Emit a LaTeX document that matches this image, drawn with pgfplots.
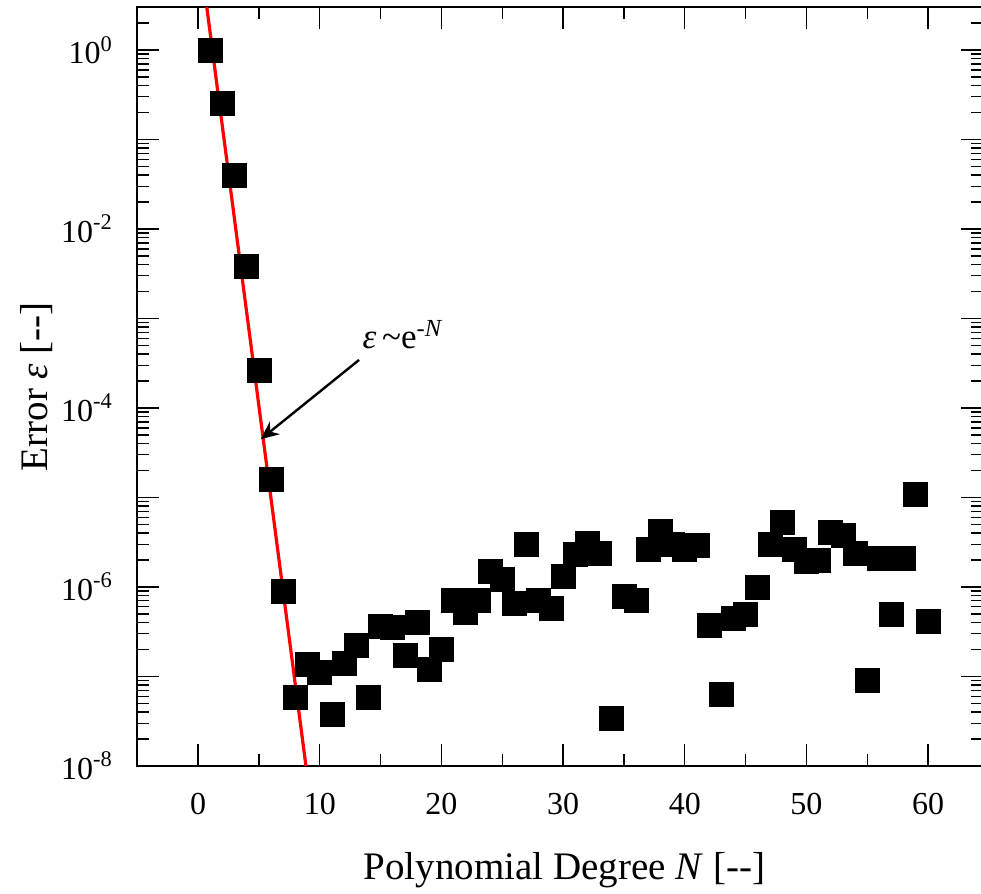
\documentclass[border=0pt]{standalone}
\usepackage{fontspec}
\setmainfont{Liberation Serif}
\usepackage{pgfplots}
\pgfplotsset{compat=1.18}
\usetikzlibrary{arrows.meta}

\begin{document}
\begin{tikzpicture}
\begin{axis}[
    scale only axis,
    width=422.75pt, height=379.3pt,
    ymode=log,
    xmin=-5, xmax=64.5,
    ymin=1e-8, ymax=3,
    xtick={0,10,...,60},
    minor x tick num=1,
    ytick={1e-8,1e-7,1e-6,1e-5,1e-4,1e-3,1e-2,1e-1,1},
    yticklabels={10\textsuperscript{-8},,10\textsuperscript{-6},,10\textsuperscript{-4},,10\textsuperscript{-2},,10\textsuperscript{0}},
    minor ytick={2e-8,3e-8,4e-8,5e-8,6e-8,7e-8,8e-8,9e-8,
                 2e-7,3e-7,4e-7,5e-7,6e-7,7e-7,8e-7,9e-7,
                 2e-6,3e-6,4e-6,5e-6,6e-6,7e-6,8e-6,9e-6,
                 2e-5,3e-5,4e-5,5e-5,6e-5,7e-5,8e-5,9e-5,
                 2e-4,3e-4,4e-4,5e-4,6e-4,7e-4,8e-4,9e-4,
                 2e-3,3e-3,4e-3,5e-3,6e-3,7e-3,8e-3,9e-3,
                 2e-2,3e-2,4e-2,5e-2,6e-2,7e-2,8e-2,9e-2,
                 0.2,0.3,0.4,0.5,0.6,0.7,0.8,0.9,2},
    tick pos=both,
    tick align=inside,
    major tick length=11pt,
    minor tick length=6pt,
    every tick/.style={black, line width=0.7pt},
    axis line style={line width=0.9pt},
    xticklabel style={font=\fontsize{16}{19}\selectfont, inner sep=0pt, yshift=-13.5pt,
        /pgf/number format/assume math mode=true},
    yticklabel style={font=\fontsize{16}{19}\selectfont, inner sep=0pt, xshift=-12pt},
    xlabel={Polynomial Degree \textit{N} [-\kern0pt-]},
    ylabel={Error \textit{ε} [-\kern0pt-]},
    xlabel style={font=\fontsize{19.5}{23}\selectfont, at={(axis description cs:0.5053,-0.1503)}, anchor=base},
    ylabel style={font=\fontsize{19.5}{23}\selectfont, at={(axis description cs:-0.1068,0.5)}, anchor=base},
]
\coordinate (bl) at (rel axis cs:0,0);
\coordinate (tr) at (rel axis cs:1,1);

% fitted slope
\addplot[red, line width=1.6pt] coordinates {(0,16.6) (9,7.2e-9)};

% computed error
\addplot[only marks, mark=square*, mark size=6pt, black, mark options={fill=black, draw=black}] coordinates {
(1,1) (2,0.25) (3,0.04) (4,3.8e-3) (5,2.6e-4) (6,1.6e-5) (7,8.9e-7) (8,5.8e-8)
(9,1.35e-7) (10,1.12e-7) (11,3.8e-8) (12,1.4e-7) (13,2.2e-7) (14,5.9e-8) (15,3.6e-7)
(16,3.5e-7) (17,1.7e-7) (18,4.0e-7) (19,1.2e-7) (20,2.0e-7) (21,7.1e-7) (22,5.2e-7)
(23,7.1e-7) (24,1.48e-6) (25,1.2e-6) (26,6.6e-7) (27,2.95e-6) (28,7.1e-7) (29,5.8e-7)
(30,1.32e-6) (31,2.3e-6) (32,3.1e-6) (33,2.4e-6) (34,3.4e-8) (35,7.9e-7) (36,7.1e-7)
(37,2.6e-6) (38,4.2e-6) (39,2.95e-6) (40,2.6e-6) (41,2.9e-6) (42,3.7e-7) (43,6.3e-8)
(44,4.5e-7) (45,4.9e-7) (46,9.8e-7) (47,2.95e-6) (48,5.2e-6) (49,2.6e-6) (50,1.95e-6)
(51,2.0e-6) (52,4.1e-6) (53,3.8e-6) (54,2.4e-6) (55,9.1e-8) (56,2.1e-6) (57,4.9e-7)
(58,2.1e-6) (59,1.07e-5) (60,4.1e-7)
};

\draw[-{Stealth[length=9pt,width=8pt]}, line width=1.2pt] (axis cs:13.23,3.44e-4) -- (axis cs:5.15,4.47e-5);
\node[anchor=base west, inner sep=0pt, font=\fontsize{17.5}{20}\selectfont] at (axis cs:13.48,4.57e-4) {\textit{ε}\,\textasciitilde e\textsuperscript{-\textit{N}}};
\end{axis}
\pgfresetboundingbox
\path[use as bounding box] ([xshift=-68.65pt,yshift=-64pt]bl) rectangle ([xshift=-0.9pt,yshift=3.65pt]tr);
\end{tikzpicture}
\end{document}
